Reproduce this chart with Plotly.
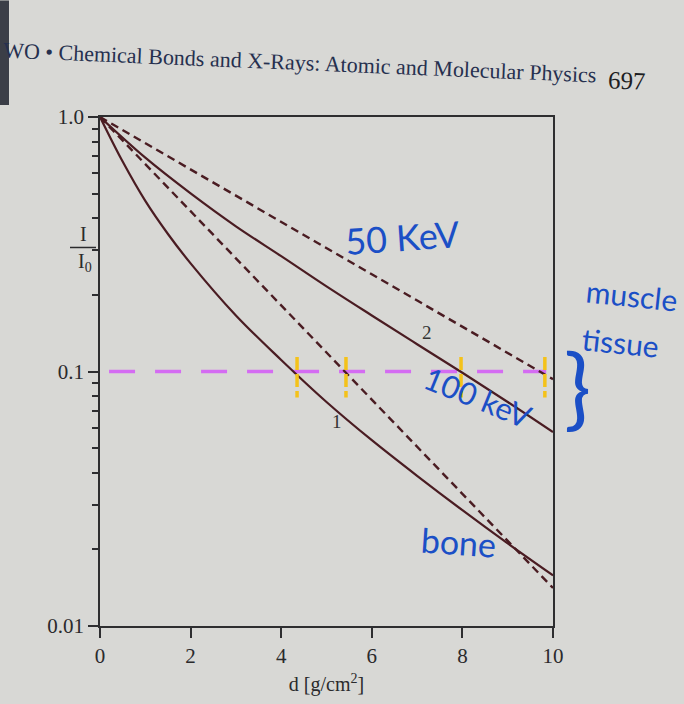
import plotly.graph_objects as go

# ---- data ----
d_bone = [0, 0.5, 1, 1.5, 2, 3, 4, 5, 6, 7, 8, 9, 10]
I_bone = [1.0, 0.668, 0.468, 0.347, 0.266, 0.166, 0.111, 0.0759, 0.0537, 0.0389, 0.0285, 0.0211, 0.0158]

d_grid = [0, 1, 2, 3, 4, 5, 6, 7, 8, 9, 10]
I_muscle = [1.0, 0.692, 0.501, 0.372, 0.284, 0.216, 0.166, 0.128, 0.0989, 0.0759, 0.0578]
I_dash_upper = [1.0, 0.789, 0.622, 0.491, 0.387, 0.305, 0.241, 0.190, 0.150, 0.118, 0.0933]
I_dash_lower = [1.0, 0.653, 0.426, 0.278, 0.182, 0.119, 0.0776, 0.0506, 0.0331, 0.0216, 0.0141]

# handwritten marks
pink_d = [0.2, 9.85]
pink_I = [0.1, 0.1]
cross_d = [4.35, 5.43, 7.97, 9.82]

x_ticks = [0, 2, 4, 6, 8, 10]
y_ticks = [0.01, 0.1, 1.0]
y_ticklabels = ["0.01", "0.1", "1.0"]

CURVE = "#4a1c22"
BLUE = "#1b4fc6"
PAPER = "#d8d8d5"
SERIF = "Liberation Serif, DejaVu Serif, serif"

L, R, T, B = 100, 553, 117, 628
W, H = 684, 704


def px(x):
    return (x - L) / (R - L)


def py(y):
    return (B - y) / (B - T)


def note(text, x, y, size, family=SERIF, color="#2a2a2c", angle=0):
    return dict(text=text, x=px(x), y=py(y), xref="paper", yref="paper",
                xanchor="center", yanchor="middle", showarrow=False,
                textangle=angle, font=dict(family=family, size=size, color=color))


fig = go.Figure()

fig.add_trace(go.Scatter(x=pink_d, y=pink_I, mode="lines",
                         line=dict(color="#d46cf2", width=3.5, dash="26px,20px"),
                         hoverinfo="skip", showlegend=False))

fig.add_trace(go.Scatter(x=d_grid, y=I_dash_upper, mode="lines",
                         line=dict(color=CURVE, width=2.4, dash="8px,5px"),
                         name="dashed 1", showlegend=False))
fig.add_trace(go.Scatter(x=d_grid, y=I_dash_lower, mode="lines",
                         line=dict(color=CURVE, width=2.4, dash="8px,5px"),
                         name="dashed 2", showlegend=False))
fig.add_trace(go.Scatter(x=d_grid, y=I_muscle, mode="lines", line_shape="spline",
                         line=dict(color=CURVE, width=2.2),
                         name="2", showlegend=False))
fig.add_trace(go.Scatter(x=d_bone, y=I_bone, mode="lines", line_shape="spline",
                         line=dict(color=CURVE, width=2.2),
                         name="1", showlegend=False))

for cd in cross_d:
    fig.add_trace(go.Scatter(x=[cd, cd], y=[0.114, 0.079], mode="lines",
                             line=dict(color="#f4c21a", width=3.5, dash="13px,4px"),
                             hoverinfo="skip", showlegend=False))

axis_common = dict(showline=True, linecolor="#2e2e30", linewidth=1.5, mirror=True,
                   showgrid=False, zeroline=False, ticks="outside", tickcolor="#2e2e30",
                   tickwidth=1.5, ticklen=10,
                   tickfont=dict(family=SERIF, size=21, color="#2a2a2c"))

fig.update_xaxes(range=[0, 10], tickvals=x_ticks, **axis_common,
                 title=dict(text="d [g/cm<sup>2</sup>]", standoff=10,
                            font=dict(family=SERIF, size=20, color="#2a2a2c")))
fig.update_yaxes(type="log", range=[-2, 0], tickvals=y_ticks, ticktext=y_ticklabels,
                 minor=dict(ticks="outside", ticklen=6, tickcolor="#2e2e30", tickwidth=1.5,
                            dtick="D1", showgrid=False),
                 **axis_common)

hand = "Lato, Noto Sans, sans-serif"
ann = [
    note("WO • Chemical Bonds and X-Rays: Atomic and Molecular Physics", 300, 62, 22,
         color="#26304f", angle=2.4),
    note("697", 627, 80, 25, color="#1e1e22", angle=2.4),
    note("I", 83, 234, 20),
    note("I<sub>0</sub>", 85, 263, 20),
    note("1", 337, 423, 19, color="#333"),
    note("2", 427, 333, 19, color="#333"),
    note("50 KeV", 402, 237, 36, family=hand, color=BLUE, angle=-4),
    note("muscle", 632, 296, 30, family=hand, color=BLUE, angle=6),
    note("tissue", 620, 343, 30, family=hand, color=BLUE, angle=6),
    note("100 keV", 478, 398, 31, family=hand, color=BLUE, angle=22),
    note("bone", 458, 543, 34, family=hand, color=BLUE, angle=4),
    note("}", 577, 385, 90, family=hand, color=BLUE),
]

shapes = [dict(type="line", xref="paper", yref="paper", x0=px(70), x1=px(96),
               y0=py(248), y1=py(248), line=dict(color="#2a2a2c", width=1.5)),
          dict(type="rect", xref="paper", yref="paper", x0=px(0), x1=px(9),
               y0=py(0), y1=py(105), fillcolor="#3b3e47", line=dict(width=0),
               layer="below")]

fig.update_layout(width=W, height=H, paper_bgcolor=PAPER, plot_bgcolor=PAPER,
                  margin=dict(l=L, r=W - R, t=T, b=H - B),
                  annotations=ann, shapes=shapes, showlegend=False)

fig.write_html("out.html", config={"displayModeBar": False},
               post_script="document.body.style.margin='0';"
                           "document.body.style.overflow='hidden';"
                           "document.body.style.background='#d8d8d5';")
